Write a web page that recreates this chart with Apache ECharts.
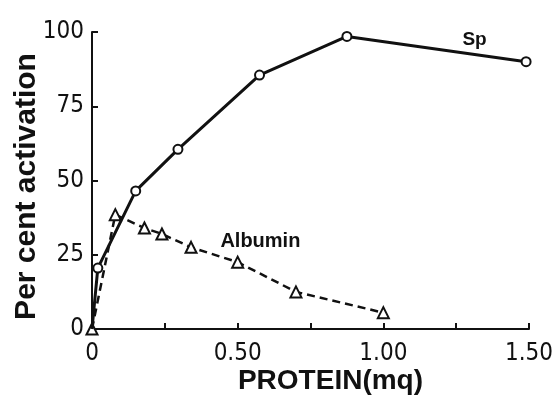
<!DOCTYPE html>
<html>
<head>
<meta charset="utf-8">
<script src="https://cdn.jsdelivr.net/npm/echarts@6/dist/echarts.min.js"></script>
<style>
  html, body { margin: 0; padding: 0; background: #fff; }
  #chart { width: 554px; height: 406px; }
</style>
</head>
<body>
<div id="chart"></div>
<script>
// values
const spX = [0, 0.02, 0.15, 0.295, 0.575, 0.875, 1.49]
const spY = [0, 20.5, 46.5, 60.5, 85.5, 98.5, 90]
const albuminX = [0, 0.08, 0.18, 0.24, 0.34, 0.50, 0.70, 1.00]
const albuminY = [0, 38.5, 34, 32, 27.5, 22.5, 12.5, 5.5]
const xTickLabels = { 0: '0', 0.5: '0.50', 1: '1.00', 1.5: '1.50' }
const yTicks = [0, 25, 50, 75, 100]

const narrow = '"DejaVu Sans Condensed", "Liberation Sans Narrow", "Roboto Condensed", sans-serif'
const bold = '"Liberation Sans", Arial, sans-serif'

const chart = echarts.init(document.getElementById('chart'))

const option = {
  animation: false,
  backgroundColor: '#fff',
  // no auto shrinking: the plot box is fixed like the printed figure
  grid: { left: 92, right: 25, top: 32, bottom: 77, containLabel: false, outerBoundsMode: 'none' },

  xAxis: {
    type: 'value',
    min: 0,
    max: 1.5,
    interval: 0.25,
    name: '{a|PROTEIN}{b|(mq)}',
    nameLocation: 'middle',
    nameGap: 38,
    nameMoveOverlap: false,
    nameTextStyle: {
      padding: [0, 0, 0, 40],
      rich: {
        a: { fontFamily: bold, fontWeight: 'bold', fontSize: 28, color: '#111' },
        b: { fontFamily: bold, fontWeight: 'bold', fontSize: 28, color: '#111' }
      }
    },
    axisLine: { lineStyle: { color: '#111', width: 2 } },
    axisTick: { inside: true, length: 6, lineStyle: { color: '#111', width: 2 } },
    splitLine: { show: false },
    axisLabel: {
      margin: 13,
      fontFamily: narrow,
      fontSize: 24,
      color: '#111',
      formatter: v => xTickLabels[v] !== undefined ? xTickLabels[v] : ''
    }
  },

  yAxis: {
    type: 'value',
    min: 0,
    max: 100,
    interval: 25,
    name: 'Per cent activation',
    nameLocation: 'middle',
    nameGap: 50,
    nameMoveOverlap: false,
    nameTextStyle: {
      fontFamily: bold, fontWeight: 'bold', fontSize: 30, color: '#111',
      padding: [0, 12, 0, 0]
    },
    axisLine: { show: true, lineStyle: { color: '#111', width: 2 } },
    axisTick: { show: true, inside: true, length: 6, lineStyle: { color: '#111', width: 2 } },
    splitLine: { show: false },
    axisLabel: {
      margin: 8,
      fontFamily: narrow,
      fontSize: 24,
      color: '#111',
      formatter: v => yTicks.includes(v) ? String(v) : ''
    }
  },

  series: [
    {
      name: 'Sp',
      type: 'line',
      data: spX.map((x, i) => ({
        value: [x, spY[i]],
        symbol: i === 0 ? 'none' : 'circle'
      })),
      symbolSize: 9,
      itemStyle: { color: '#fff', borderColor: '#111', borderWidth: 2 },
      lineStyle: { color: '#111', width: 3 },
      z: 3,
      markPoint: {
        symbol: 'circle',
        symbolSize: 0,
        data: [{ coord: [1.313, 97.5] }],
        label: {
          show: true,
          formatter: 'Sp',
          fontFamily: bold,
          fontWeight: 'bold',
          fontSize: 19,
          color: '#111'
        }
      }
    },
    {
      name: 'Albumin',
      type: 'line',
      data: albuminX.map((x, i) => [x, albuminY[i]]),
      symbol: 'triangle',
      symbolSize: 11,
      itemStyle: { color: '#fff', borderColor: '#111', borderWidth: 2 },
      lineStyle: { color: '#111', width: 2.5, type: [8, 5] },
      z: 2,
      markPoint: {
        symbol: 'circle',
        symbolSize: 0,
        data: [{ coord: [0.578, 29.6] }],
        label: {
          show: true,
          formatter: 'Albumin',
          fontFamily: bold,
          fontWeight: 'bold',
          fontSize: 20,
          color: '#111'
        }
      }
    }
  ]
}

chart.setOption(option)
</script>
</body>
</html>
